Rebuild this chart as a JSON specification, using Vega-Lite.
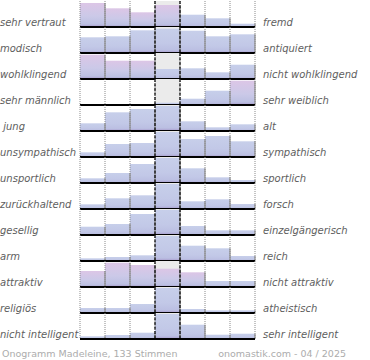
{
  "$schema": "https://vega.github.io/schema/vega-lite/v6.json",
  "padding": {"left": 0, "top": 0, "right": 0, "bottom": 0},
  "background": "white",
  "bounds": "flush",
  "config": {"view": {"stroke": null}, "font": "DejaVu Sans"},
  "data": {"values": [
    {"row":0,"l":"sehr vertraut","r":"fremd","bin":0,"v":24,"t":"p"},
    {"row":0,"l":"sehr vertraut","r":"fremd","bin":1,"v":18.7,"t":"p"},
    {"row":0,"l":"sehr vertraut","r":"fremd","bin":2,"v":14.7,"t":"p"},
    {"row":0,"l":"sehr vertraut","r":"fremd","bin":3,"v":22,"t":"p"},
    {"row":0,"l":"sehr vertraut","r":"fremd","bin":4,"v":12.3,"t":"b"},
    {"row":0,"l":"sehr vertraut","r":"fremd","bin":5,"v":8.7,"t":"b"},
    {"row":0,"l":"sehr vertraut","r":"fremd","bin":6,"v":3.3,"t":"b"},
    {"row":1,"l":"modisch","r":"antiquiert","bin":0,"v":15.7,"t":"b"},
    {"row":1,"l":"modisch","r":"antiquiert","bin":1,"v":16.7,"t":"b"},
    {"row":1,"l":"modisch","r":"antiquiert","bin":2,"v":22.7,"t":"b"},
    {"row":1,"l":"modisch","r":"antiquiert","bin":3,"v":24.3,"t":"b"},
    {"row":1,"l":"modisch","r":"antiquiert","bin":4,"v":22.3,"t":"b"},
    {"row":1,"l":"modisch","r":"antiquiert","bin":5,"v":16.7,"t":"b"},
    {"row":1,"l":"modisch","r":"antiquiert","bin":6,"v":18.7,"t":"b"},
    {"row":2,"l":"wohlklingend","r":"nicht wohlklingend","bin":0,"v":24.3,"t":"p"},
    {"row":2,"l":"wohlklingend","r":"nicht wohlklingend","bin":1,"v":18.3,"t":"p"},
    {"row":2,"l":"wohlklingend","r":"nicht wohlklingend","bin":2,"v":18.3,"t":"p"},
    {"row":2,"l":"wohlklingend","r":"nicht wohlklingend","bin":3,"v":10,"t":"b"},
    {"row":2,"l":"wohlklingend","r":"nicht wohlklingend","bin":4,"v":10.7,"t":"b"},
    {"row":2,"l":"wohlklingend","r":"nicht wohlklingend","bin":5,"v":6.7,"t":"b"},
    {"row":2,"l":"wohlklingend","r":"nicht wohlklingend","bin":6,"v":14.3,"t":"b"},
    {"row":3,"l":"sehr männlich","r":"sehr weiblich","bin":0,"v":0,"t":"b"},
    {"row":3,"l":"sehr männlich","r":"sehr weiblich","bin":1,"v":0,"t":"b"},
    {"row":3,"l":"sehr männlich","r":"sehr weiblich","bin":2,"v":0,"t":"b"},
    {"row":3,"l":"sehr männlich","r":"sehr weiblich","bin":3,"v":2.3,"t":"b"},
    {"row":3,"l":"sehr männlich","r":"sehr weiblich","bin":4,"v":6.3,"t":"b"},
    {"row":3,"l":"sehr männlich","r":"sehr weiblich","bin":5,"v":14.3,"t":"b"},
    {"row":3,"l":"sehr männlich","r":"sehr weiblich","bin":6,"v":24.3,"t":"p"},
    {"row":4,"l":"\u200b\u00a0jung","r":"alt","bin":0,"v":7.7,"t":"b"},
    {"row":4,"l":"\u200b\u00a0jung","r":"alt","bin":1,"v":18.7,"t":"b"},
    {"row":4,"l":"\u200b\u00a0jung","r":"alt","bin":2,"v":22,"t":"b"},
    {"row":4,"l":"\u200b\u00a0jung","r":"alt","bin":3,"v":25,"t":"b"},
    {"row":4,"l":"\u200b\u00a0jung","r":"alt","bin":4,"v":9.7,"t":"b"},
    {"row":4,"l":"\u200b\u00a0jung","r":"alt","bin":5,"v":3.7,"t":"b"},
    {"row":4,"l":"\u200b\u00a0jung","r":"alt","bin":6,"v":6.7,"t":"b"},
    {"row":5,"l":"unsympathisch","r":"sympathisch","bin":0,"v":4.7,"t":"b"},
    {"row":5,"l":"unsympathisch","r":"sympathisch","bin":1,"v":13,"t":"b"},
    {"row":5,"l":"unsympathisch","r":"sympathisch","bin":2,"v":14,"t":"b"},
    {"row":5,"l":"unsympathisch","r":"sympathisch","bin":3,"v":25,"t":"b"},
    {"row":5,"l":"unsympathisch","r":"sympathisch","bin":4,"v":18,"t":"b"},
    {"row":5,"l":"unsympathisch","r":"sympathisch","bin":5,"v":21,"t":"b"},
    {"row":5,"l":"unsympathisch","r":"sympathisch","bin":6,"v":15.7,"t":"b"},
    {"row":6,"l":"unsportlich","r":"sportlich","bin":0,"v":4.7,"t":"b"},
    {"row":6,"l":"unsportlich","r":"sportlich","bin":1,"v":10,"t":"b"},
    {"row":6,"l":"unsportlich","r":"sportlich","bin":2,"v":19,"t":"b"},
    {"row":6,"l":"unsportlich","r":"sportlich","bin":3,"v":25,"t":"b"},
    {"row":6,"l":"unsportlich","r":"sportlich","bin":4,"v":14.7,"t":"b"},
    {"row":6,"l":"unsportlich","r":"sportlich","bin":5,"v":5.7,"t":"b"},
    {"row":6,"l":"unsportlich","r":"sportlich","bin":6,"v":3,"t":"b"},
    {"row":7,"l":"zurückhaltend","r":"forsch","bin":0,"v":4.7,"t":"b"},
    {"row":7,"l":"zurückhaltend","r":"forsch","bin":1,"v":10.7,"t":"b"},
    {"row":7,"l":"zurückhaltend","r":"forsch","bin":2,"v":13.7,"t":"b"},
    {"row":7,"l":"zurückhaltend","r":"forsch","bin":3,"v":25,"t":"b"},
    {"row":7,"l":"zurückhaltend","r":"forsch","bin":4,"v":7.7,"t":"b"},
    {"row":7,"l":"zurückhaltend","r":"forsch","bin":5,"v":9.7,"t":"b"},
    {"row":7,"l":"zurückhaltend","r":"forsch","bin":6,"v":5,"t":"b"},
    {"row":8,"l":"gesellig","r":"einzelgängerisch","bin":0,"v":8.3,"t":"b"},
    {"row":8,"l":"gesellig","r":"einzelgängerisch","bin":1,"v":11,"t":"b"},
    {"row":8,"l":"gesellig","r":"einzelgängerisch","bin":2,"v":21,"t":"b"},
    {"row":8,"l":"gesellig","r":"einzelgängerisch","bin":3,"v":25,"t":"b"},
    {"row":8,"l":"gesellig","r":"einzelgängerisch","bin":4,"v":9,"t":"b"},
    {"row":8,"l":"gesellig","r":"einzelgängerisch","bin":5,"v":4.7,"t":"b"},
    {"row":8,"l":"gesellig","r":"einzelgängerisch","bin":6,"v":4.7,"t":"b"},
    {"row":9,"l":"arm","r":"reich","bin":0,"v":2.7,"t":"b"},
    {"row":9,"l":"arm","r":"reich","bin":1,"v":4,"t":"b"},
    {"row":9,"l":"arm","r":"reich","bin":2,"v":5.7,"t":"b"},
    {"row":9,"l":"arm","r":"reich","bin":3,"v":25,"t":"b"},
    {"row":9,"l":"arm","r":"reich","bin":4,"v":15.3,"t":"b"},
    {"row":9,"l":"arm","r":"reich","bin":5,"v":12.7,"t":"b"},
    {"row":9,"l":"arm","r":"reich","bin":6,"v":5,"t":"b"},
    {"row":10,"l":"attraktiv","r":"nicht attraktiv","bin":0,"v":16,"t":"p"},
    {"row":10,"l":"attraktiv","r":"nicht attraktiv","bin":1,"v":24.3,"t":"p"},
    {"row":10,"l":"attraktiv","r":"nicht attraktiv","bin":2,"v":22,"t":"p"},
    {"row":10,"l":"attraktiv","r":"nicht attraktiv","bin":3,"v":18.3,"t":"p"},
    {"row":10,"l":"attraktiv","r":"nicht attraktiv","bin":4,"v":14.7,"t":"p"},
    {"row":10,"l":"attraktiv","r":"nicht attraktiv","bin":5,"v":6,"t":"b"},
    {"row":10,"l":"attraktiv","r":"nicht attraktiv","bin":6,"v":6,"t":"b"},
    {"row":11,"l":"religiös","r":"atheistisch","bin":0,"v":5,"t":"b"},
    {"row":11,"l":"religiös","r":"atheistisch","bin":1,"v":5,"t":"b"},
    {"row":11,"l":"religiös","r":"atheistisch","bin":2,"v":9,"t":"b"},
    {"row":11,"l":"religiös","r":"atheistisch","bin":3,"v":25,"t":"b"},
    {"row":11,"l":"religiös","r":"atheistisch","bin":4,"v":4,"t":"b"},
    {"row":11,"l":"religiös","r":"atheistisch","bin":5,"v":2.7,"t":"b"},
    {"row":11,"l":"religiös","r":"atheistisch","bin":6,"v":2.7,"t":"b"},
    {"row":12,"l":"nicht intelligent","r":"sehr intelligent","bin":0,"v":2.7,"t":"b"},
    {"row":12,"l":"nicht intelligent","r":"sehr intelligent","bin":1,"v":4,"t":"b"},
    {"row":12,"l":"nicht intelligent","r":"sehr intelligent","bin":2,"v":6.3,"t":"b"},
    {"row":12,"l":"nicht intelligent","r":"sehr intelligent","bin":3,"v":25,"t":"b"},
    {"row":12,"l":"nicht intelligent","r":"sehr intelligent","bin":4,"v":14.3,"t":"b"},
    {"row":12,"l":"nicht intelligent","r":"sehr intelligent","bin":5,"v":4.3,"t":"b"},
    {"row":12,"l":"nicht intelligent","r":"sehr intelligent","bin":6,"v":5.3,"t":"b"}
  ]},
  "facet": {"row": {"field": "row", "type": "ordinal", "header": {"labels": false, "title": null, "labelPadding": 0, "titlePadding": 0}}},
  "spacing": 0,
  "spec": {
    "width": 175,
    "height": 26,
    "layer": [
      {
        "transform": [{"filter": "datum.bin === 3"}],
        "mark": {"type": "bar", "color": "#ebebeb"},
        "encoding": {
          "x": {"field": "bin", "type": "ordinal", "scale": {"paddingInner": 0, "paddingOuter": 0}, "axis": null},
          "y": {"datum": 26, "type": "quantitative", "scale": {"domain": [0, 26], "nice": false}, "axis": null},
          "y2": {"datum": 0}
        }
      },
      {
        "transform": [{"filter": "datum.t === 'p'"}],
        "mark": {"type": "bar", "color": {"gradient": "linear", "x1": 0, "y1": 0, "x2": 0, "y2": 1, "stops": [{"offset": 0, "color": "#dcc6e6"}, {"offset": 0.55, "color": "#cbc9e8"}, {"offset": 0.88, "color": "#bcc0e2"}, {"offset": 1, "color": "#a798cb"}]}},
        "encoding": {
          "x": {"field": "bin", "type": "ordinal"},
          "y": {"field": "v", "type": "quantitative"}
        }
      },
      {
        "transform": [{"filter": "datum.t === 'b'"}],
        "mark": {"type": "bar", "color": {"gradient": "linear", "x1": 0, "y1": 0, "x2": 0, "y2": 1, "stops": [{"offset": 0, "color": "#c7cfea"}, {"offset": 0.6, "color": "#c2c8e7"}, {"offset": 0.88, "color": "#bbbfe2"}, {"offset": 1, "color": "#a798cb"}]}},
        "encoding": {
          "x": {"field": "bin", "type": "ordinal"},
          "y": {"field": "v", "type": "quantitative"}
        }
      },
      {
        "mark": {"type": "rule", "color": "#8c8c8c", "strokeWidth": 1.2},
        "encoding": {
          "x": {"field": "bin", "type": "ordinal", "bandPosition": 1},
          "y": {"field": "v", "type": "quantitative"},
          "y2": {"datum": 0}
        }
      },
      {
        "mark": {"type": "rule", "color": "#8a8a8a", "strokeDash": [1, 1], "strokeWidth": 1},
        "encoding": {
          "x": {"field": "bin", "type": "ordinal", "bandPosition": 0}
        }
      },
      {
        "transform": [{"filter": "datum.bin === 6"}],
        "mark": {"type": "rule", "color": "#8a8a8a", "strokeDash": [1, 1], "strokeWidth": 1},
        "encoding": {
          "x": {"field": "bin", "type": "ordinal", "bandPosition": 1}
        }
      },
      {
        "transform": [{"filter": "datum.bin === 3"}],
        "mark": {"type": "rule", "color": "#000000", "strokeDash": [3, 1.5], "strokeWidth": 1.2},
        "encoding": {
          "x": {"field": "bin", "type": "ordinal", "bandPosition": 0}
        }
      },
      {
        "transform": [{"filter": "datum.bin === 3"}],
        "mark": {"type": "rule", "color": "#000000", "strokeDash": [3, 1.5], "strokeWidth": 1.2},
        "encoding": {
          "x": {"field": "bin", "type": "ordinal", "bandPosition": 1}
        }
      },
      {
        "transform": [{"filter": "datum.bin === 0"}],
        "mark": {"type": "rule", "color": "#000000", "strokeWidth": 2},
        "encoding": {
          "y": {"datum": 0, "type": "quantitative"}
        }
      },
      {
        "transform": [{"filter": "datum.bin === 0"}],
        "mark": {"type": "text", "align": "left", "baseline": "alphabetic", "dx": -80, "dy": -1.5, "fontSize": 10, "fontStyle": "italic", "color": "#5e5e5e"},
        "encoding": {
          "x": {"field": "bin", "type": "ordinal", "bandPosition": 0},
          "y": {"datum": 0, "type": "quantitative"},
          "text": {"field": "l"}
        }
      },
      {
        "transform": [{"filter": "datum.bin === 6"}],
        "mark": {"type": "text", "align": "left", "baseline": "alphabetic", "dx": 8, "dy": -1.5, "fontSize": 10, "fontStyle": "italic", "color": "#5e5e5e"},
        "encoding": {
          "x": {"field": "bin", "type": "ordinal", "bandPosition": 1},
          "y": {"datum": 0, "type": "quantitative"},
          "text": {"field": "r"}
        }
      },
      {
        "transform": [{"filter": "datum.bin === 0 && datum.row === 12"}],
        "mark": {"type": "text", "align": "left", "baseline": "alphabetic", "dx": -78, "dy": 18, "fontSize": 9.5, "color": "#acacac", "text": "Onogramm Madeleine, 133 Stimmen"},
        "encoding": {
          "x": {"field": "bin", "type": "ordinal", "bandPosition": 0},
          "y": {"datum": 0, "type": "quantitative"}
        }
      },
      {
        "transform": [{"filter": "datum.bin === 6 && datum.row === 12"}],
        "mark": {"type": "text", "align": "right", "baseline": "alphabetic", "dx": 91, "dy": 18, "fontSize": 9.5, "color": "#acacac", "text": "onomastik.com - 04 / 2025"},
        "encoding": {
          "x": {"field": "bin", "type": "ordinal", "bandPosition": 1},
          "y": {"datum": 0, "type": "quantitative"}
        }
      }
    ]
  }
}
